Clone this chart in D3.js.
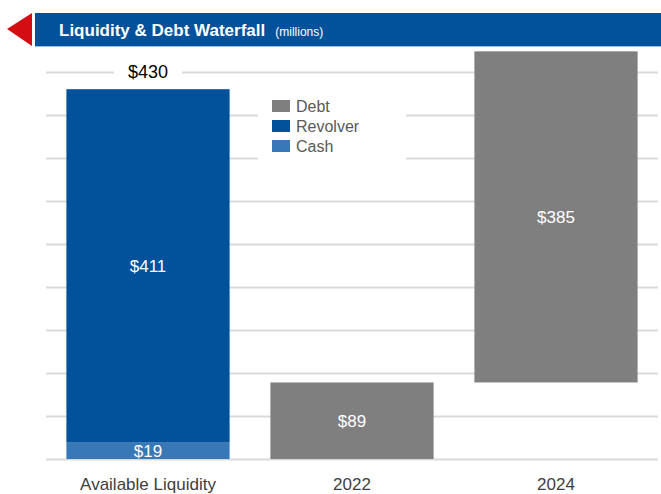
<!DOCTYPE html>
<html>
<head>
<meta charset="utf-8">
<script src="https://cdn.jsdelivr.net/npm/d3@7"></script>
<style>
  body { margin: 0; background: #fff; }
  text { font-family: "Liberation Sans Narrow", "Arial Narrow", "Liberation Sans", Arial, sans-serif; }
</style>
</head>
<body>
<script>
// data
const categories = ["Available Liquidity", "2022", "2024"];
const cash = [19, 0, 0];
const revolver = [411, 0, 0];
const debt = [0, 89, 385];
const totalLabel = "$430";
const gridTicks = [0, 50, 100, 150, 200, 250, 300, 350, 400, 450];

const colours = { Debt: "#7f7f7f", Revolver: "#02519b", Cash: "#3978b6" };

const width = 661, height = 494;
const svg = d3.select("body").append("svg")
    .attr("width", width)
    .attr("height", height);

const x = d3.scaleBand().domain(categories).range([46, 658]).paddingInner(0.2).paddingOuter(0.1);
const y = d3.scaleLinear().domain([0, 500]).range([459, 29]);

// build stacked segments (waterfall: debt of 2024 floats on top of 2022)
const segments = [];
let debtBase = 0;
categories.forEach((c, i) => {
    let base = 0;
    if (cash[i] > 0) { segments.push({ cat: c, key: "Cash", y0: base, y1: base + cash[i], v: cash[i] }); base += cash[i]; }
    if (revolver[i] > 0) { segments.push({ cat: c, key: "Revolver", y0: base, y1: base + revolver[i], v: revolver[i] }); base += revolver[i]; }
    if (debt[i] > 0) { segments.push({ cat: c, key: "Debt", y0: debtBase, y1: debtBase + debt[i], v: debt[i] }); debtBase += debt[i]; }
});

// gridlines
svg.append("g").selectAll("line").data(gridTicks).enter()
    .append("line")
    .attr("x1", 46).attr("x2", 658)
    .attr("y1", d => Math.round(y(d)) + 0.5)
    .attr("y2", d => Math.round(y(d)) + 0.5)
    .attr("stroke", "#d9d9d9")
    .attr("stroke-width", 2);

// bars
svg.append("g").selectAll("rect").data(segments).enter()
    .append("rect")
    .attr("x", d => x(d.cat))
    .attr("width", x.bandwidth())
    .attr("y", d => y(d.y1))
    .attr("height", d => y(d.y0) - y(d.y1))
    .attr("fill", d => colours[d.key]);

// value labels
svg.append("g").selectAll("text").data(segments).enter()
    .append("text")
    .attr("x", d => x(d.cat) + x.bandwidth() / 2)
    .attr("y", d => d.key === "Cash" ? y(d.y0) - 2 : (y(d.y0) + y(d.y1)) / 2 + 6)
    .attr("text-anchor", "middle")
    .attr("fill", "#fff")
    .attr("font-size", 17)
    .text(d => "$" + d.v);

// total label with white backing over the gridline
const totX = x(categories[0]) + x.bandwidth() / 2;
const totY = y(450);
svg.append("rect")
    .attr("x", totX - 34).attr("y", totY - 10)
    .attr("width", 68).attr("height", 20)
    .attr("fill", "#fff");
svg.append("text")
    .attr("x", totX).attr("y", totY + 6)
    .attr("text-anchor", "middle")
    .attr("fill", "#000")
    .attr("font-size", 18)
    .text(totalLabel);

// category labels
svg.append("g").selectAll("text").data(categories).enter()
    .append("text")
    .attr("x", d => x(d) + x.bandwidth() / 2)
    .attr("y", 490)
    .attr("text-anchor", "middle")
    .attr("fill", "#404040")
    .attr("font-size", 17)
    .text(d => d);

// legend
const legendKeys = ["Debt", "Revolver", "Cash"];
const lg = svg.append("g").attr("transform", "translate(258, 94)");
lg.append("rect").attr("x", 0).attr("y", 0).attr("width", 148).attr("height", 70).attr("fill", "#fff");
const li = lg.selectAll("g").data(legendKeys).enter()
    .append("g")
    .attr("transform", (d, i) => `translate(14, ${6 + i * 20})`);
li.append("rect").attr("width", 18).attr("height", 12).attr("fill", d => colours[d]);
li.append("text")
    .attr("x", 24).attr("y", 12)
    .attr("fill", "#595959")
    .attr("font-size", 16)
    .text(d => d);

// header
svg.append("rect").attr("x", 35).attr("y", 13).attr("width", 626).attr("height", 33).attr("fill", "#02519b");
svg.append("line").attr("x1", 35).attr("x2", 661).attr("y1", 46.5).attr("y2", 46.5).attr("stroke", "#9fc3e6").attr("stroke-width", 1);
svg.append("path").attr("d", "M7,29 L32,13 L32,46 Z").attr("fill", "#d40d12");
const title = svg.append("text")
    .attr("x", 59).attr("y", 36)
    .attr("fill", "#fff");
title.append("tspan").attr("font-size", 17).attr("font-weight", "bold").text("Liquidity & Debt Waterfall");
title.append("tspan").attr("font-size", 12).attr("dx", 10).text("(millions)");
</script>
</body>
</html>
